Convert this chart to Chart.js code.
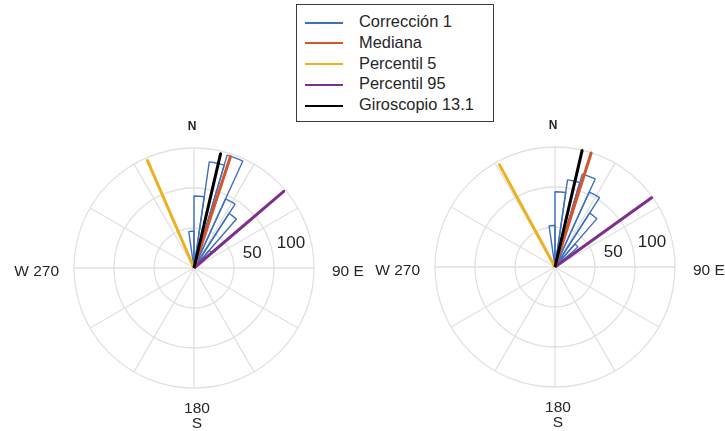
<!DOCTYPE html>
<html>
<head>
<meta charset="utf-8">
<script src="https://cdn.jsdelivr.net/npm/chart.js@4.4.1/dist/chart.umd.min.js"></script>
<style>
  html, body { margin: 0; padding: 0; background: #fff; }
  body { width: 725px; height: 431px; position: relative; overflow: hidden; font-family: 'Liberation Sans', Arial, sans-serif; color: #262626; }
  canvas { position: absolute; top: 0; }
  #rosa1 { left: 0; }
  #rosa2 { left: 365px; }
  #legend { position: absolute; left: 296px; top: 4px; width: 198px; height: 118px; box-sizing: border-box;
            border: 1px solid #3a3a3a; background: #fff; z-index: 2; padding-top: 6px; }
  .row { height: 20.8px; line-height: 20.8px; font-size: 16.4px; white-space: nowrap; }
  .row i { display: inline-block; width: 38px; height: 2px; vertical-align: middle; margin: 0 16px 0 8px; }
</style>
</head>
<body>
<div id="legend"></div>
<canvas id="rosa1" width="365" height="431"></canvas>
<canvas id="rosa2" width="360" height="431"></canvas>
<script>
// bins del histograma (inicio en grados desde el N, sentido horario)
const binStarts = [-8.18, 0, 8.18, 16.36, 24.55, 32.73, 40.91];
const binWidth = 8.18;
const histLeft = [46, 90, 134, 147, 95, 81, 29];
const histRight = [52, 94, 110, 121, 103, 80, 38];

const seriesNames = ['Corrección 1', 'Mediana', 'Percentil 5', 'Percentil 95', 'Giroscopio 13.1'];
const seriesColors = ['#3d6fbf', '#d9532a', '#edb120', '#7e2f8e', '#000000'];

// lineas: Mediana, Percentil 5, Percentil 95, Giroscopio
const linesLeftAngle = [18.1, 336.6, 49.5, 13.1];
const linesLeftR = [147, 147, 148, 147];
const linesRightAngle = [17.6, 331.5, 54.4, 13.1];
const linesRightR = [150, 146, 149, 150];

const spokes = ['0', '30', '60', '90', '120', '150', '180', '210', '240', '270', '300', '330'];
const rTicks = [50, 100];
const rMax = 150;

const gridColor = '#e1e1e1';
const FONT = '"Liberation Sans", Arial, sans-serif';

// leyenda
const legend = document.getElementById('legend');
seriesNames.forEach((name, i) => {
    legend.innerHTML += `<div class="row"><i style="background:${seriesColors[i]}"></i>${name}</div>`;
});

function histDataset(values) {
    const gap = (binStarts[0] + 360) % 360;
    return {
        label: seriesNames[0],
        data: [0, ...values],
        angle: [gap, ...values.map(() => binWidth)],
        backgroundColor: 'rgba(0,0,0,0)',
        borderColor: seriesColors[0],
        borderWidth: [0, ...values.map(() => 1.4)]
    };
}

function lineDataset(idx, angleDeg, r) {
    const w = 0.02;
    const color = seriesColors[idx];
    return {
        label: seriesNames[idx],
        data: [0, r],
        angle: [angleDeg - w / 2, w],
        backgroundColor: ['rgba(0,0,0,0)', color],
        borderColor: color,
        borderWidth: [0, 3]
    };
}

const compassPlugin = {
    id: 'compass',
    afterDraw(chart) {
        const s = chart.scales.r;
        const ctx = chart.ctx;
        const xc = s.xCenter, yc = s.yCenter, R = s.drawingArea;
        ctx.save();
        ctx.fillStyle = '#262626';
        ctx.textBaseline = 'middle';
        ctx.textAlign = 'center';
        ctx.font = 'bold 12px ' + FONT;
        ctx.fillText('N', xc - 2, yc - R - 21);
        ctx.font = '15.5px ' + FONT;
        ctx.textAlign = 'right';
        ctx.fillText('W 270', xc - R - 15, yc + 4);
        ctx.textAlign = 'left';
        ctx.fillText('90 E', xc + R + 18, yc + 4);
        ctx.textAlign = 'center';
        ctx.fillText('180', xc + 3, yc + R + 21);
        ctx.fillText('S', xc + 3, yc + R + 36);
        ctx.font = '17px ' + FONT;
        const a = 76 * Math.PI / 180;
        rTicks.forEach(v => {
            const d = s.getDistanceFromCenterForValue(v) + 20;
            ctx.fillText(String(v), xc + d * Math.sin(a), yc - d * Math.cos(a));
        });
        ctx.restore();
    }
};

function drawRose(id, hist, angles, radii, pad) {
    const datasets = [];
    // el orden: el primero queda arriba
    [4, 1, 3, 2].forEach(k => datasets.push(lineDataset(k, angles[k - 1], radii[k - 1])));
    datasets.push(histDataset(hist));

    return new Chart(document.getElementById(id), {
        type: 'polarArea',
        data: { labels: spokes, datasets: datasets },
        options: {
            responsive: false,
            animation: false,
            events: [],
            layout: { padding: pad },
            plugins: { legend: { display: false }, tooltip: { enabled: false } },
            scales: {
                r: {
                    min: 0,
                    max: rMax,
                    startAngle: 0,
                    ticks: { display: false, stepSize: 50 },
                    grid: { circular: true, color: gridColor, lineWidth: 1.3 },
                    angleLines: { display: true, color: gridColor, lineWidth: 1.3 },
                    pointLabels: { display: false }
                }
            }
        },
        plugins: [compassPlugin]
    });
}

drawRose('rosa1', histLeft, linesLeftAngle, linesLeftR, { left: 74, right: 51, top: 148, bottom: 43 });
drawRose('rosa2', histRight, linesRightAngle, linesRightR, { left: 70, right: 50, top: 147, bottom: 44 });
</script>
</body>
</html>
